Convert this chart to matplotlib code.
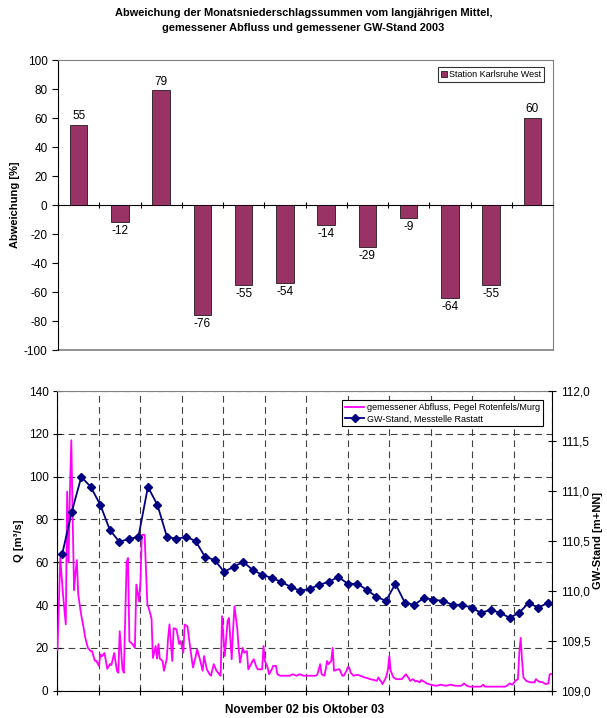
import matplotlib
matplotlib.use("Agg")
import matplotlib.pyplot as plt
import numpy as np
from matplotlib.lines import Line2D
from matplotlib.patches import Patch
from matplotlib.ticker import FuncFormatter, MultipleLocator

plt.rcParams["font.family"] = ["Liberation Sans", "DejaVu Sans"]
plt.rcParams["axes.unicode_minus"] = False

# --- Abweichung Monatsniederschlag (Nov 02 .. Okt 03), Station Karlsruhe West
abweichung = [55, -12, 79, -76, -55, -54, -14, -29, -9, -64, -55, 60]

# --- gemessener Abfluss Pegel Rotenfels/Murg: Tag ab 1.11.02, Q in m3/s
abfluss_tag = [
    0, 2, 4, 6, 7, 8, 9, 10, 11, 12, 13, 14, 15, 17, 19, 20, 22, 24, 25, 27,
    28, 30, 31, 32, 34, 35, 36, 38, 39, 41, 43, 44, 45, 47, 48, 50, 51, 52, 54, 56,
    57, 59, 60, 61, 63, 65, 66, 68, 69, 71, 72, 73, 74, 76, 77, 79, 80, 81, 83, 84,
    86, 87, 88,
    89, 91, 92, 94, 96, 98, 100, 101, 103, 105, 106, 108, 110, 111, 113, 115, 117, 118, 119, 121,
    123, 124, 126, 127, 128, 130, 131, 132, 134, 135, 137, 138, 140, 141, 142, 144, 145, 148, 149, 150,
    152, 153, 155, 156, 158, 159, 161, 164, 168, 170, 173, 175, 178, 183,
    187, 188, 190, 191, 193, 194, 195, 196, 198, 199, 200, 203, 204, 206, 207, 209, 210, 211, 212, 214,
    217, 219, 222, 224, 226, 229, 231, 232, 234, 235, 237, 238, 239, 240, 241, 243, 245, 249, 251, 252,
    254, 255, 257, 259, 260, 262, 263, 265, 267,
    270, 274, 277, 281, 284, 288, 292, 294, 296, 298, 306, 308, 309, 324, 326, 327, 329, 331, 333, 334,
    335, 336, 337, 339, 342, 345, 346, 348, 351, 353, 355, 356, 358,
]
abfluss_q = [
    19, 62, 45, 31, 93, 60, 93, 117, 80, 47, 55, 61, 45, 36, 29, 25, 20, 18.5, 18.5, 14,
    14, 11.6, 17, 16, 17.6, 14, 10.2, 12.5, 12, 17.6, 9.3, 8.4, 27.8, 10, 8.4, 60, 62, 23, 22, 20,
    49.6, 41.7, 51, 72.8, 72.8, 40.3, 38.5, 33.8, 15.3, 20.9, 15, 21.8, 15, 13.9, 9.3, 14.8, 24.6, 31, 13.9, 29.2,
    28.7, 25.5, 21.8,
    23.2, 17.8, 30.9, 30.1, 20, 10.8, 16.2, 19.3, 14.7, 9.3, 16.2, 10, 7.7, 7, 12.4, 9.3, 7.7, 7, 34.8, 16.2,
    32.5, 34, 14.7, 28.6, 39.4, 29.3, 20, 13.1, 20, 17.8, 18.5, 10, 12.4, 13.9, 14.7, 10.8, 10, 10, 20.9, 13.9,
    10.8, 7.7, 10, 11.6, 11.6, 7.7, 7, 7, 7, 7.7, 7, 7.7, 7, 7,
    7, 7.7, 12.4, 7.7, 7, 10, 13.9, 12.4, 13.9, 20, 9.3, 10, 10, 7, 7, 9.3, 11.1, 10.8, 8.5, 7,
    7.4, 7, 6.2, 5.9, 5.4, 5, 4.6, 6.2, 4.3, 3.1, 5.4, 7, 10, 16.2, 9.3, 6.2, 5.4, 5.4, 7, 7.7,
    5.9, 4.6, 5.4, 4.3, 4.6, 3.9, 5, 4.3, 3.4,
    2.8, 2.3, 2.8, 2.3, 2.8, 2.3, 2.3, 3.4, 2.3, 1.9, 1.9, 2.8, 1.9, 1.9, 2.8, 3.4, 2.8, 4.6, 5.4, 17.8,
    24.7, 13.9, 6.2, 4.6, 3.9, 3.9, 5.4, 4.3, 3.9, 3.1, 3.4, 7.7, 8,
]

# --- GW-Stand Messstelle Rastatt, woechentlich, m+NN
gw_stand = [
    110.37, 110.79, 111.14, 111.04, 110.86, 110.61, 110.49, 110.52, 110.54, 111.04,
    110.86, 110.54, 110.52, 110.54, 110.50, 110.34, 110.31, 110.19, 110.24, 110.29,
    110.21, 110.16, 110.13, 110.09, 110.04, 110.00, 110.02, 110.06, 110.09, 110.14,
    110.07, 110.07, 110.01, 109.94, 109.90, 110.07, 109.88, 109.86, 109.93, 109.91,
    109.90, 109.86, 109.86, 109.83, 109.78, 109.81, 109.78, 109.73, 109.78, 109.88,
    109.83, 109.88,
]
gw_woche = np.arange(1, len(gw_stand) + 1)

BAR = "#993366"
PINK = "#FF00FF"
NAVY = "#000080"
GRID = dict(color="#404040", linestyle=(0, (6, 4)), linewidth=0.8)
FS = 8.5

fig = plt.figure(figsize=(6.07, 7.18), dpi=100)
fig.text(0.5, 0.989, "Abweichung der Monatsniederschlagssummen vom langjährigen Mittel,\n"
         "gemessener Abfluss und gemessener GW-Stand 2003",
         ha="center", va="top", fontsize=7.9, fontweight="bold", linespacing=1.65)

# ---------------- top: bar chart
ax1 = fig.add_axes([0.0956, 0.5125, 0.8155, 0.4039])
x = np.arange(len(abweichung))
ax1.bar(x, abweichung, width=0.42, color=BAR, edgecolor="black", linewidth=0.5, zorder=3)
for xi, v in zip(x, abweichung):
    ax1.annotate(str(v), (xi, v), xytext=(0, 2 if v > 0 else -2), textcoords="offset points",
                 ha="center", va="bottom" if v > 0 else "top", fontsize=FS)
ax1.set_xlim(-0.5, 11.5)
ax1.set_ylim(-100, 100)
ax1.yaxis.set_major_locator(MultipleLocator(20))
ax1.set_yticks([g for g in range(-80, 100, 20) if g != 0], minor=True)
ax1.yaxis.grid(True, which="minor", **GRID)
ax1.set_xticks(np.arange(-0.5, 12, 1))
ax1.set_xticklabels([])
ax1.spines["bottom"].set_position(("data", 0))
ax1.tick_params(axis="x", direction="inout", length=5, width=0.8)
ax1.tick_params(axis="y", which="major", direction="out", length=4, labelsize=FS)
ax1.tick_params(axis="y", which="minor", length=0)
for s in ("top", "right"):
    ax1.spines[s].set_color("#808080")
ax1.axhline(-100, color="#808080", linewidth=1.2, clip_on=False)
ax1.set_ylabel("Abweichung [%]", fontsize=8, fontweight="bold", labelpad=3)
leg1 = ax1.legend(handles=[Patch(facecolor=BAR, edgecolor="black", linewidth=0.5,
                                 label="Station Karlsruhe West")],
                  loc="upper right", bbox_to_anchor=(0.99, 0.99), fontsize=6.5, frameon=True,
                  fancybox=False, edgecolor="black", handlelength=0.7, handleheight=0.7,
                  handletextpad=0.2, borderpad=0.3)
leg1.get_frame().set_linewidth(0.8)

# ---------------- bottom: discharge + groundwater
pos2 = [0.0947, 0.038, 0.8155, 0.4174]
ax2 = fig.add_axes(pos2)
ax2.plot(abfluss_tag, abfluss_q, color=PINK, linewidth=1.3, zorder=3)
ax2.set_xlim(0, 358)
ax2.set_ylim(0, 140)
ax2.set_xticks(list(range(0, 331, 30)) + [358])
ax2.set_xticklabels([])
ax2.yaxis.set_major_locator(MultipleLocator(20))
ax2.grid(True, **GRID)
ax2.tick_params(axis="x", direction="inout", length=6, width=0.8)
ax2.tick_params(axis="y", direction="inout", length=6, labelsize=FS)
ax2.spines["top"].set_color("#808080")
ax2.set_ylabel("Q [m³/s]", fontsize=8, fontweight="bold", labelpad=3)
ax2.set_xlabel("November 02 bis Oktober 03", fontsize=8.5, fontweight="bold", labelpad=3)

ax3 = fig.add_axes(pos2, frameon=False)
ax3.patch.set_visible(False)
ax3.plot(gw_woche, gw_stand, color=NAVY, linewidth=1.3, marker="D", markersize=3.8, zorder=4)
ax3.set_xlim(0.5, len(gw_stand) + 0.5)
ax3.set_ylim(109, 112)
ax3.set_xticks([])
ax3.yaxis.tick_right()
ax3.yaxis.set_label_position("right")
ax3.yaxis.set_major_locator(MultipleLocator(0.5))
ax3.yaxis.set_major_formatter(FuncFormatter(lambda v, p: f"{v:.1f}".replace(".", ",")))
ax3.tick_params(axis="y", direction="inout", length=6, labelsize=FS)
ax3.set_ylabel("GW-Stand [m+NN]", fontsize=8, fontweight="bold", labelpad=1)

handles = [Line2D([], [], color=PINK, linewidth=1.3, label="gemessener Abfluss, Pegel Rotenfels/Murg"),
           Line2D([], [], color=NAVY, linewidth=1.3, marker="D", markersize=3.8,
                  label="GW-Stand, Messtelle Rastatt")]
leg2 = ax3.legend(handles=handles, loc="upper right", bbox_to_anchor=(0.99, 0.985), fontsize=6.5,
                  frameon=True, fancybox=False, edgecolor="black", framealpha=1,
                  handlelength=2.2, handletextpad=0.3, borderpad=0.3, labelspacing=0.3)
leg2.get_frame().set_linewidth(0.8)

fig.savefig("out.png", dpi=100)
